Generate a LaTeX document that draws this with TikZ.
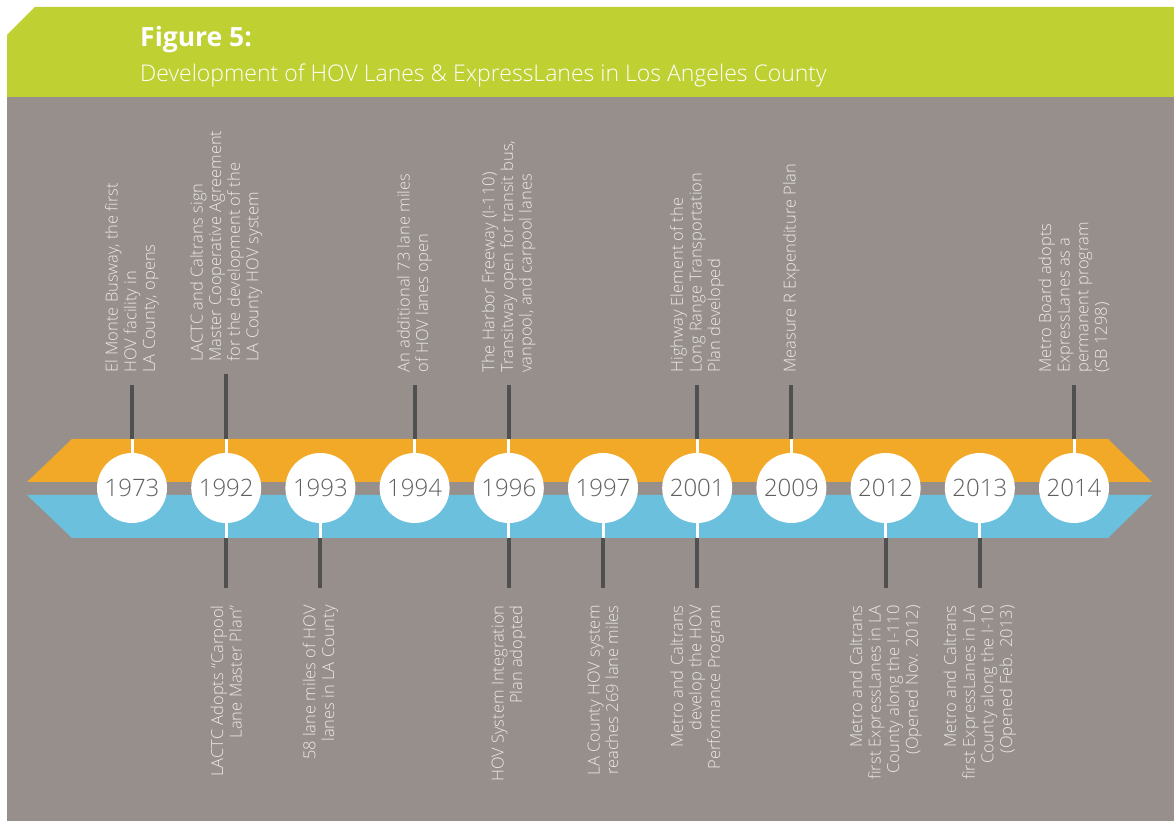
\documentclass[tikz,border=0pt]{standalone}
\usepackage{fontspec}
\setmainfont{Open Sans Light}[BoldFont={Open Sans Bold}]
\usetikzlibrary{positioning}

\definecolor{headgreen}{RGB}{190,208,50}
\definecolor{panelgray}{RGB}{150,143,139}
\definecolor{laneorange}{RGB}{243,169,40}
\definecolor{laneblue}{RGB}{107,192,222}
\definecolor{stemgray}{RGB}{80,80,80}
\definecolor{yeargray}{RGB}{95,95,95}
\definecolor{notewhite}{RGB}{236,233,230}

\begin{document}
\begin{tikzpicture}[
    x=1pt, y=1pt,
    node distance=23.8pt,
    year/.style={circle, fill=white, minimum size=70pt, inner sep=0pt, text=yeargray, font=\fontsize{24}{27}\selectfont},
    toplabel/.style={rotate=90, anchor=west, align=left, inner sep=0pt, text=notewhite, font=\fontsize{16.5}{18.6}\selectfont},
    botlabel/.style={rotate=90, anchor=east, align=right, inner sep=0pt, text=notewhite, font=\fontsize{16.5}{18.6}\selectfont},
    link/.style={draw=white, line width=3pt},
    topstem/.style={draw=stemgray, line width=4pt, shorten >=12pt},
    botstem/.style={draw=stemgray, line width=4pt, shorten >=17pt}
  ]
  \useasboundingbox (0,0) rectangle (1174,821);
  \fill[white] (0,0) rectangle (1174,821);

  % Panel and title bar
  \fill[panelgray] (7,0) rectangle (1174,724);
  \fill[headgreen] (7,724) -- (7,786) -- (35,814) -- (1174,814) -- (1174,724) -- cycle;
  \node (title) [anchor=base west, inner sep=0pt, text=white, font=\fontsize{26.5}{30}\selectfont\bfseries] at (140,774) {Figure 5:};
  \node (subtitle) [anchor=base west, inner sep=0pt, text=white, font=\fontsize{23}{27}\selectfont] at (140,739) {Development of HOV Lanes \& ExpressLanes in Los Angeles County};

  % Lanes
  \fill[laneorange] (72,382) -- (1108,382) -- (1152,339) -- (27,339) -- cycle;
  \fill[laneblue] (27,326) -- (1152,326) -- (1108,283) -- (72,283) -- cycle;
  \coordinate (otop) at (0,382);
  \coordinate (bbot) at (0,283);

  % Years
  \node (y1973) [year] at (132,333) {1973};
  \node (y1992) [year, right=of y1973] {1992};
  \node (y1993) [year, right=of y1992] {1993};
  \node (y1994) [year, right=of y1993] {1994};
  \node (y1996) [year, right=of y1994] {1996};
  \node (y1997) [year, right=of y1996] {1997};
  \node (y2001) [year, right=of y1997] {2001};
  \node (y2009) [year, right=of y2001] {2009};
  \node (y2012) [year, right=of y2009] {2012};
  \node (y2013) [year, right=of y2012] {2013};
  \node (y2014) [year, right=of y2013] {2014};

  % Events above the lanes
  \node (t1973) [toplabel] at ([yshift=80pt]y1973.north) {El Monte Busway, the first\\HOV facility in\\LA County, opens};
  \node (t1992) [toplabel, xshift=11pt] at ([yshift=80pt]y1992.north) {LACTC and Caltrans sign\\Master Cooperative Agreement\\for the development of the\\LA County HOV system};
  \node (t1994) [toplabel] at ([yshift=80pt]y1994.north) {An additional 73 lane miles\\of HOV lanes open};
  \node (t1996) [toplabel] at ([yshift=80pt]y1996.north) {The Harbor Freeway (I-110)\\Transitway open for transit bus,\\vanpool, and carpool lanes};
  \node (t2001) [toplabel] at ([yshift=80pt]y2001.north) {Highway Element of the\\Long Range Transportation\\Plan developed};
  \node (t2009) [toplabel] at ([yshift=80pt]y2009.north) {Measure R Expenditure Plan};
  \node (t2014) [toplabel] at ([yshift=80pt]y2014.north) {Metro Board adopts\\ExpressLanes as a\\permanent program\\(SB 1298)};

  % Events below the lanes
  \node (b1992) [botlabel] at ([yshift=-82pt]y1992.south) {LACTC Adopts ``Carpool\\Lane Master Plan''};
  \node (b1993) [botlabel] at ([yshift=-82pt]y1993.south) {58 lane miles of HOV\\lanes in LA County};
  \node (b1996) [botlabel] at ([yshift=-82pt]y1996.south) {HOV System Integration\\Plan adopted};
  \node (b1997) [botlabel] at ([yshift=-82pt]y1997.south) {LA County HOV system\\reaches 269 lane miles};
  \node (b2001) [botlabel] at ([yshift=-82pt]y2001.south) {Metro and Caltrans\\develop the HOV\\Performance Program};
  \node (b2012) [botlabel] at ([yshift=-82pt]y2012.south) {Metro and Caltrans\\first ExpressLanes in LA\\County along the I-110\\(Opened Nov. 2012)};
  \node (b2013) [botlabel] at ([yshift=-82pt]y2013.south) {Metro and Caltrans\\first ExpressLanes in LA\\County along the I-10\\(Opened Feb. 2013)};

  % Stems up
  \draw [link] (y1973.north) -- (y1973 |- otop);
  \draw [topstem] (y1973 |- otop) -- (y1973 |- t1973.west);
  \draw [link] (y1992.north) -- (y1992 |- otop);
  \draw [topstem] (y1992 |- otop) -- (y1992 |- t1992.west);
  \draw [link] (y1994.north) -- (y1994 |- otop);
  \draw [topstem] (y1994 |- otop) -- (y1994 |- t1994.west);
  \draw [link] (y1996.north) -- (y1996 |- otop);
  \draw [topstem] (y1996 |- otop) -- (y1996 |- t1996.west);
  \draw [link] (y2001.north) -- (y2001 |- otop);
  \draw [topstem] (y2001 |- otop) -- (y2001 |- t2001.west);
  \draw [link] (y2009.north) -- (y2009 |- otop);
  \draw [topstem] (y2009 |- otop) -- (y2009 |- t2009.west);
  \draw [link] (y2014.north) -- (y2014 |- otop);
  \draw [topstem] (y2014 |- otop) -- (y2014 |- t2014.west);

  % Stems down
  \draw [link] (y1992.south) -- (y1992 |- bbot);
  \draw [botstem] (y1992 |- bbot) -- (y1992 |- b1992.east);
  \draw [link] (y1993.south) -- (y1993 |- bbot);
  \draw [botstem] (y1993 |- bbot) -- (y1993 |- b1993.east);
  \draw [link] (y1996.south) -- (y1996 |- bbot);
  \draw [botstem] (y1996 |- bbot) -- (y1996 |- b1996.east);
  \draw [link] (y1997.south) -- (y1997 |- bbot);
  \draw [botstem] (y1997 |- bbot) -- (y1997 |- b1997.east);
  \draw [link] (y2001.south) -- (y2001 |- bbot);
  \draw [botstem] (y2001 |- bbot) -- (y2001 |- b2001.east);
  \draw [link] (y2012.south) -- (y2012 |- bbot);
  \draw [botstem] (y2012 |- bbot) -- (y2012 |- b2012.east);
  \draw [link] (y2013.south) -- (y2013 |- bbot);
  \draw [botstem] (y2013 |- bbot) -- (y2013 |- b2013.east);

\end{tikzpicture}
\end{document}
